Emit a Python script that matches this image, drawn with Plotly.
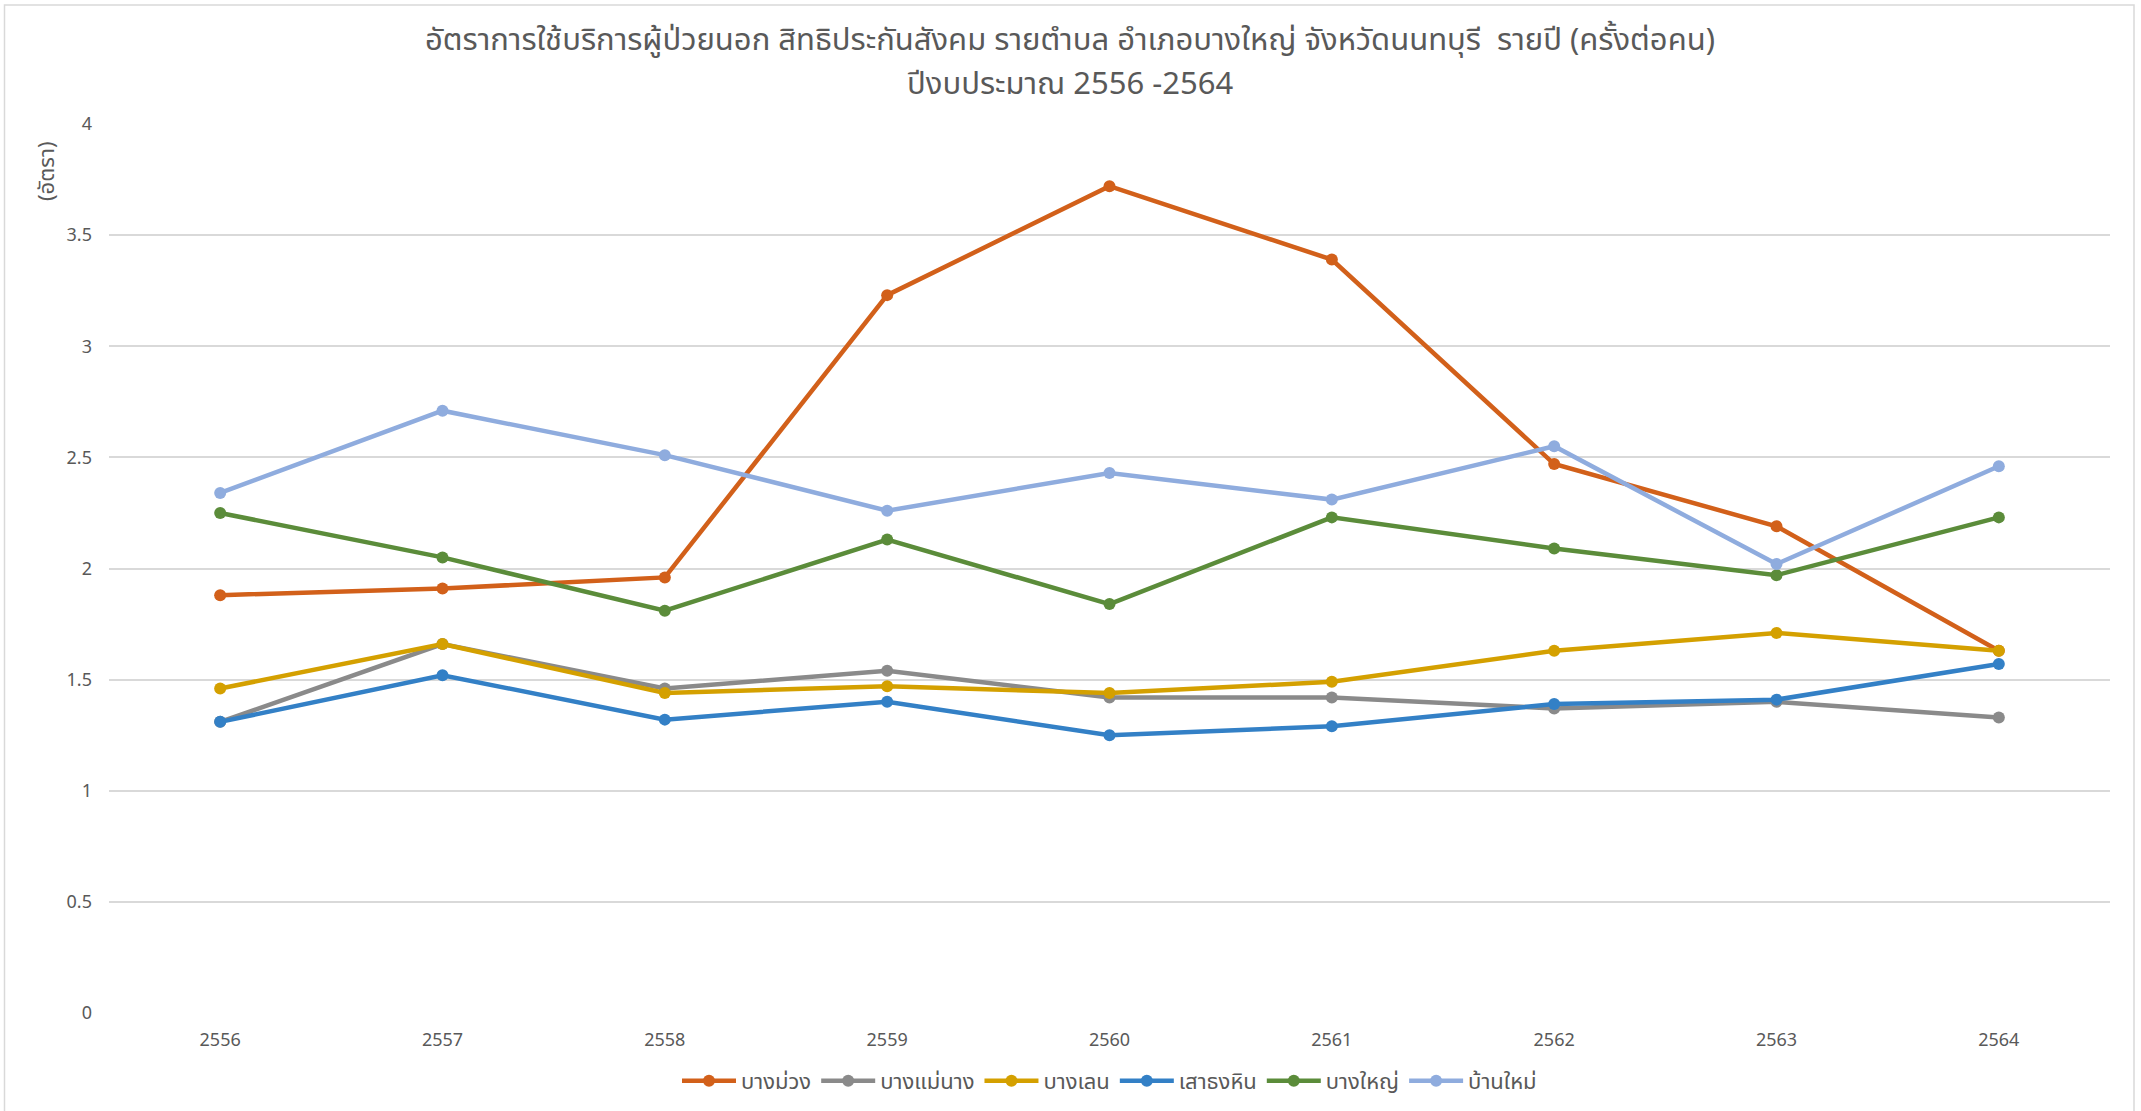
import plotly.graph_objects as go

# Fiscal years (Buddhist Era)
years = ["2556", "2557", "2558", "2559", "2560", "2561", "2562", "2563", "2564"]

# Outpatient visit rate (visits per person) by sub-district
bang_muang = [1.88, 1.91, 1.96, 3.23, 3.72, 3.39, 2.47, 2.19, 1.63]
bang_mae_nang = [1.31, 1.66, 1.46, 1.54, 1.42, 1.42, 1.37, 1.40, 1.33]
bang_len = [1.46, 1.66, 1.44, 1.47, 1.44, 1.49, 1.63, 1.71, 1.63]
sao_thong_hin = [1.31, 1.52, 1.32, 1.40, 1.25, 1.29, 1.39, 1.41, 1.57]
bang_yai = [2.25, 2.05, 1.81, 2.13, 1.84, 2.23, 2.09, 1.97, 2.23]
ban_mai = [2.34, 2.71, 2.51, 2.26, 2.43, 2.31, 2.55, 2.02, 2.46]

series_names = ["บางม่วง", "บางแม่นาง", "บางเลน", "เสาธงหิน", "บางใหญ่", "บ้านใหม่"]
series_values = [bang_muang, bang_mae_nang, bang_len, sao_thong_hin, bang_yai, ban_mai]
series_colors = ["#D2601A", "#8A8A8A", "#D4A000", "#3380C6", "#5B8C3A", "#8FACDE"]

title_line1 = "อัตราการใช้บริการผู้ป่วยนอก สิทธิประกันสังคม รายตำบล อำเภอบางใหญ่ จังหวัดนนทบุรี  รายปี (ครั้งต่อคน)"
title_line2 = "ปีงบประมาณ 2556 -2564"
y_title = "(อัตรา)"

FONT = "Noto Sans Thai, Leelawadee UI, Tahoma, Noto Sans, sans-serif"
TEXT_COLOR = "#595959"

W, H = 2141, 1111
ML, MR, MT, MB = 109, 31, 124, 98
PW, PH = W - ML - MR, H - MT - MB


def px_x(x):
    return (x - ML) / PW


def px_y(y):
    return (H - MB - y) / PH


fig = go.Figure()
for name, vals, col in zip(series_names, series_values, series_colors):
    fig.add_trace(go.Scatter(
        x=years, y=vals, name=name, mode="lines+markers",
        line=dict(color=col, width=4.5),
        marker=dict(color=col, size=12),
    ))

fig.update_layout(
    width=W, height=H,
    margin=dict(l=ML, r=MR, t=MT, b=MB, autoexpand=False),
    paper_bgcolor="white", plot_bgcolor="white",
    font=dict(family=FONT, color=TEXT_COLOR, size=18),
    showlegend=True,
    legend=dict(orientation="h", x=0.5, xanchor="center", y=px_y(1081), yanchor="middle",
                font=dict(size=22, color=TEXT_COLOR), itemwidth=54,
                bgcolor="rgba(0,0,0,0)"),
    xaxis=dict(type="category", showgrid=False, zeroline=False, showline=False,
               ticks="", tickfont=dict(size=18, color=TEXT_COLOR),
               ticklabelstandoff=14, range=[-0.5, 8.5]),
    yaxis=dict(range=[0, 4], dtick=0.5, showgrid=True, gridcolor="#D9D9D9", gridwidth=1.5,
               zeroline=False, showline=False, ticks="",
               tickfont=dict(size=18, color=TEXT_COLOR), ticklabelstandoff=16),
)

# two-line chart title
for txt, yc in [(title_line1, 41), (title_line2, 84)]:
    fig.add_annotation(text=txt, xref="paper", yref="paper",
                       x=px_x(1070), y=px_y(yc), xanchor="center", yanchor="middle",
                       showarrow=False, borderpad=0,
                       font=dict(size=31, color=TEXT_COLOR, family=FONT))

fig.add_annotation(text=y_title, textangle=-90, xref="paper", yref="paper",
                   x=px_x(48), y=px_y(171), xanchor="center", yanchor="middle",
                   showarrow=False, font=dict(size=22, color=TEXT_COLOR, family=FONT))

# chart frame
fig.add_shape(type="rect", xref="paper", yref="paper",
              x0=px_x(4.5), x1=px_x(2134), y0=px_y(1125), y1=px_y(5),
              line=dict(color="#D9D9D9", width=1.5), fillcolor="rgba(0,0,0,0)", layer="below")

fig.write_html("out.html")
